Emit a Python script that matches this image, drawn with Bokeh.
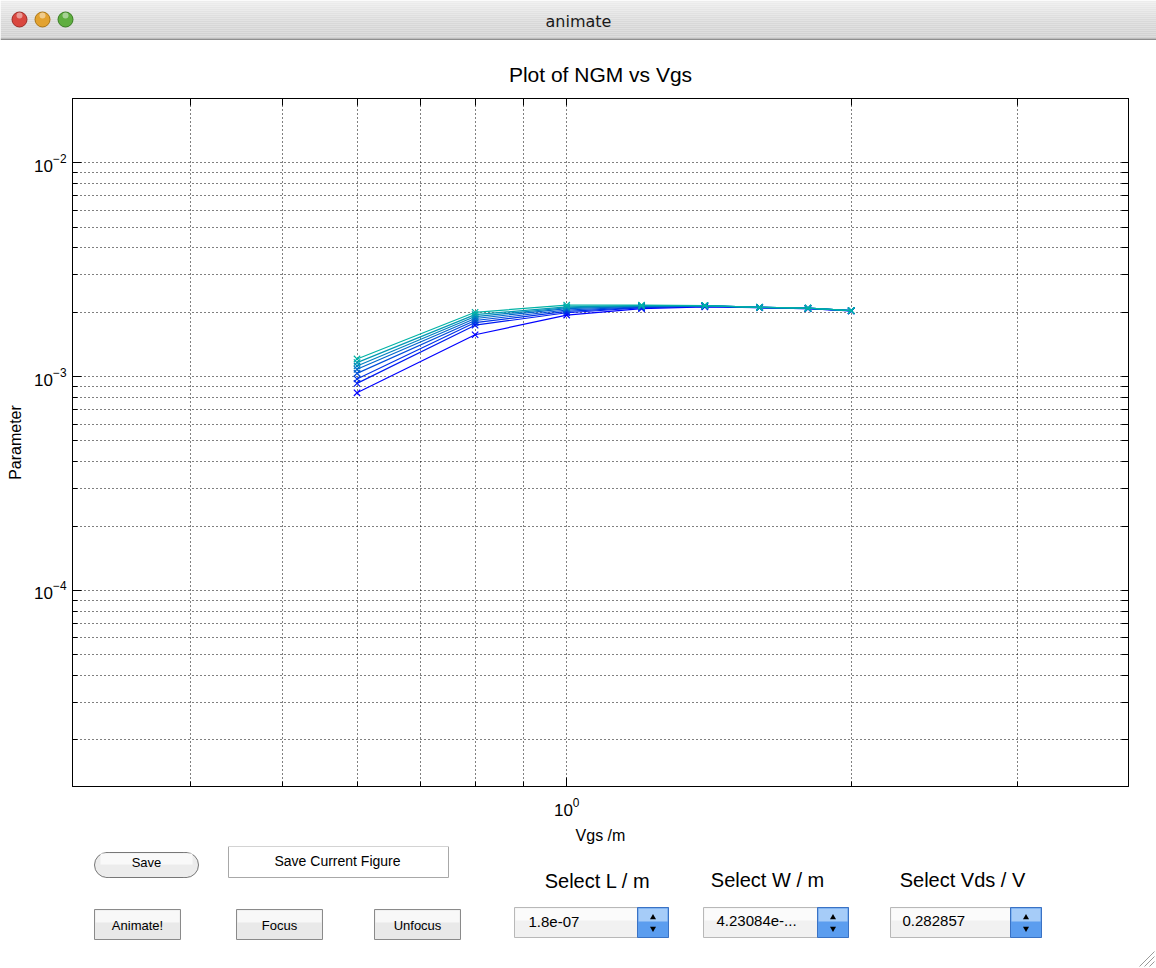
from bokeh.plotting import figure
from bokeh.models import Range1d, FixedTicker, LogAxis
from bokeh.layouts import column, row
from bokeh.embed import file_html
from bokeh.resources import INLINE
from bokeh.core.properties import value

# ---------------- data ----------------
vgs = [0.6, 0.8, 1.0, 1.2, 1.4, 1.6, 1.8, 2.0]
ngm_1 = [8.4e-4, 1.57e-3, 1.94e-3, 2.08e-3, 2.12e-3, 2.10e-3, 2.08e-3, 2.03e-3]
ngm_2 = [9.3e-4, 1.74e-3, 1.99e-3, 2.10e-3, 2.13e-3, 2.10e-3, 2.08e-3, 2.03e-3]
ngm_3 = [9.75e-4, 1.79e-3, 2.02e-3, 2.11e-3, 2.14e-3, 2.11e-3, 2.085e-3, 2.035e-3]
ngm_4 = [1.036e-3, 1.83e-3, 2.05e-3, 2.12e-3, 2.14e-3, 2.11e-3, 2.09e-3, 2.035e-3]
ngm_5 = [1.082e-3, 1.87e-3, 2.08e-3, 2.13e-3, 2.15e-3, 2.11e-3, 2.09e-3, 2.035e-3]
ngm_6 = [1.122e-3, 1.91e-3, 2.10e-3, 2.14e-3, 2.15e-3, 2.11e-3, 2.09e-3, 2.035e-3]
ngm_7 = [1.163e-3, 1.95e-3, 2.12e-3, 2.15e-3, 2.15e-3, 2.11e-3, 2.09e-3, 2.035e-3]
ngm_8 = [1.21e-3, 2.00e-3, 2.16e-3, 2.16e-3, 2.15e-3, 2.11e-3, 2.09e-3, 2.035e-3]
series = [ngm_1, ngm_2, ngm_3, ngm_4, ngm_5, ngm_6, ngm_7, ngm_8]
colors = ["#0000FF", "#001AF2", "#0033E6", "#004DD9", "#0066CC", "#0080BF", "#0099B3", "#00B3A6"]

x_major_ticks = [1.0]
x_minor_ticks = [0.3, 0.4, 0.5, 0.6, 0.7, 0.8, 0.9, 2.0, 3.0]
y_major_ticks = [1e-5, 1e-4, 1e-3, 1e-2]
y_minor_ticks = [2e-5, 3e-5, 4e-5, 5e-5, 6e-5, 7e-5, 8e-5, 9e-5,
                 2e-4, 3e-4, 4e-4, 5e-4, 6e-4, 7e-4, 8e-4, 9e-4,
                 2e-3, 3e-3, 4e-3, 5e-3, 6e-3, 7e-3, 8e-3, 9e-3, 2e-2]

plot_title = "Plot of NGM vs Vgs"
x_label = "Vgs /m"
y_label = "Parameter"
window_title = "animate"
button_labels = ["Save", "Animate!", "Focus", "Unfocus"]
static_text = "Save Current Figure"
select_labels = ["Select L / m", "Select W / m", "Select Vds / V"]
popup_values = ["1.8e-07", "4.23084e-...", "0.282857"]

FONT = "Liberation Sans"
GUI_FONT = "DejaVu Sans"


def blank(height, y0, y1):
    f = figure(width=1156, height=height, x_range=Range1d(0, 1156), y_range=Range1d(y1, y0),
               output_backend="svg", toolbar_location=None, min_border=0,
               min_border_left=0, min_border_right=0, min_border_top=0, min_border_bottom=0,
               x_axis_location=None, y_axis_location=None)
    f.grid.visible = False
    f.outline_line_color = None
    f.background_fill_color = "white"
    f.border_fill_color = "white"
    return f


# ---------------- title bar ----------------
tb = blank(40, 0, 40)
stripe_top = list(range(0, 38, 2))
shades = ["#ededed", "#ebebeb", "#e9e9e9", "#e7e7e7", "#e5e5e5", "#e3e3e3", "#e1e1e1",
          "#dfdfdf", "#dddddd", "#dbdbdb", "#d9d9d9", "#d8d8d8", "#d7d7d7", "#d6d6d6",
          "#d5d5d5", "#d4d4d4", "#d3d3d3", "#d2d2d2", "#d1d1d1"]
tb.quad(left=0, right=1156, top=stripe_top, bottom=[t + 2 for t in stripe_top],
        fill_color=shades, line_color=None)
tb.quad(left=0, right=1156, top=38, bottom=40, fill_color="#8e8e8e", line_color=None)
tb.scatter([19, 42, 65], [19, 19, 19], marker="circle", size=15,
           fill_color=["#d9473f", "#e3a22f", "#5fae3f"],
           line_color=["#9c2c27", "#a97515", "#397c22"], line_width=1)
tb.scatter([19, 42, 65], [15, 15, 15], marker="circle", size=6,
           fill_color="white", fill_alpha=0.45, line_color=None)
tb.text(x=[578], y=[21], text=[window_title], text_align="center", text_baseline="middle",
        text_font=value(GUI_FONT), text_font_size="16px", text_color="#1a1a1a")

# ---------------- main plot ----------------
p = figure(width=1156, height=806, x_axis_type="log", y_axis_type="log",
           x_range=Range1d(0.3, 3.93), y_range=Range1d(1.21e-5, 0.02),
           output_backend="svg", toolbar_location=None,
           min_border_left=72, min_border_right=28, min_border_top=58, min_border_bottom=60,
           title=plot_title)
p.background_fill_color = "white"
p.border_fill_color = "white"
p.outline_line_color = "black"
p.outline_line_width = 1
p.title.align = "center"
p.title.text_font = FONT
p.title.text_font_size = "21px"
p.title.text_font_style = "normal"
p.title.text_color = "black"
p.title.standoff = 25

xt = FixedTicker(ticks=x_major_ticks, minor_ticks=x_minor_ticks)
yt = FixedTicker(ticks=y_major_ticks, minor_ticks=y_minor_ticks)
p.xaxis.ticker = xt
p.yaxis.ticker = yt
p.xgrid.ticker = xt
p.ygrid.ticker = yt

for ax in [p.xaxis[0], p.yaxis[0]]:
    ax.axis_line_color = "black"
    ax.major_tick_line_color = "black"
    ax.minor_tick_line_color = "black"
    ax.major_tick_in = 9
    ax.major_tick_out = 0
    ax.minor_tick_in = 5
    ax.minor_tick_out = 0
    ax.major_label_text_font = FONT
    ax.major_label_text_font_size = "17px"
    ax.major_label_text_color = "black"
    ax.axis_label_text_font = FONT
    ax.axis_label_text_font_size = "16px"
    ax.axis_label_text_font_style = "normal"
    ax.axis_label_text_color = "black"

p.xaxis.axis_label = x_label
p.yaxis.axis_label = y_label
p.xaxis.major_label_standoff = 11
p.xaxis.axis_label_standoff = 8
p.yaxis.major_label_standoff = 6
p.yaxis.axis_label_standoff = 7

top_ax = LogAxis(ticker=FixedTicker(ticks=[], minor_ticks=x_major_ticks + x_minor_ticks),
                 minor_tick_in=7, minor_tick_out=0, major_tick_in=0, major_tick_out=0,
                 axis_line_color="black", minor_tick_line_color="black")
right_ax = LogAxis(ticker=FixedTicker(ticks=[], minor_ticks=y_major_ticks + y_minor_ticks),
                   minor_tick_in=7, minor_tick_out=0, major_tick_in=0, major_tick_out=0,
                   axis_line_color="black", minor_tick_line_color="black")
p.add_layout(top_ax, "above")
p.add_layout(right_ax, "right")

for g in [p.xgrid[0], p.ygrid[0]]:
    g.grid_line_color = "black"
    g.grid_line_dash = "1 3"
    g.grid_line_width = 1
    g.grid_line_alpha = 1.0
    g.minor_grid_line_color = "black"
    g.minor_grid_line_dash = "1 3"
    g.minor_grid_line_width = 1
    g.minor_grid_line_alpha = 1.0

for ys, c in zip(series, colors):
    p.line(vgs, ys, line_color=c, line_width=1.2)
    p.scatter(vgs, ys, marker="x", size=9, line_color=c, line_width=1.2)

# ---------------- GUI controls ----------------
ctrl = blank(122, 846, 968)

# Save button (rounded ends) and static text box
ctrl.quad(left=[106], right=[186], top=[852], bottom=[877],
          fill_color="#ececec", line_color="#777777", line_width=1)
ctrl.scatter([106.5, 185.5], [864.5, 864.5], marker="circle", size=25,
             fill_color="#ececec", line_color="#777777", line_width=1)
ctrl.quad(left=[105], right=[187], top=[852.6], bottom=[876.4], fill_color="#ececec", line_color=None)
ctrl.quad(left=[100], right=[192], top=[853], bottom=[864], fill_color="#f9f9f9", line_color=None)
ctrl.quad(left=[228], right=[448], top=[846], bottom=[877],
          fill_color="white", line_color="#a8a8a8", line_width=1)
# square buttons
btn_left = [94, 236, 374]
btn_right = [180, 322, 460]
ctrl.quad(left=btn_left, right=btn_right, top=909, bottom=939,
          fill_color="#e9e9e9", line_color="#8a8a8a", line_width=1)
ctrl.quad(left=[b + 1 for b in btn_left], right=[b - 1 for b in btn_right], top=910, bottom=922,
          fill_color="#f8f8f8", line_color=None)

# popup menus
pop_left = [514, 703, 890]
pop_right = [668, 848, 1041]
step_left = [637, 817, 1010]
ctrl.quad(left=pop_left, right=pop_right, top=907, bottom=937,
          fill_color="#f1f1f1", line_color="#b8b8b8", line_width=1)
ctrl.quad(left=[b + 1 for b in pop_left], right=step_left, top=908, bottom=920,
          fill_color="#fbfbfb", line_color=None)
ctrl.quad(left=step_left, right=pop_right, top=907, bottom=937,
          fill_color="#5b9def", line_color="#3a72c4", line_width=1)
ctrl.quad(left=[s + 1 for s in step_left], right=[r - 1 for r in pop_right], top=908, bottom=921,
          fill_color="#a6ccf8", line_color=None)
step_cx = [(a + b) / 2 for a, b in zip(step_left, pop_right)]
ctrl.scatter(step_cx, [917] * 3, marker="triangle", size=6, fill_color="black", line_color=None)
ctrl.scatter(step_cx, [928] * 3, marker="inverted_triangle", size=6, fill_color="black", line_color=None)

# resize grip
ctrl.segment(x0=[1139, 1144, 1149], y0=[966, 966, 966], x1=[1154, 1154, 1154], y1=[951, 956, 961],
             line_color="#9a9a9a", line_width=1)

ctrl.text(x=[146, 137, 279, 417], y=[862, 925, 925, 925], text=button_labels,
          text_align="center", text_baseline="middle", text_font=value(FONT),
          text_font_size="13px", text_color="black")
ctrl.text(x=[337], y=[860], text=[static_text], text_align="center",
          text_baseline="middle", text_font=value(FONT), text_font_size="14px", text_color="black")
ctrl.text(x=[597, 767, 962], y=[880, 879, 879], text=select_labels, text_align="center",
          text_baseline="middle", text_font=value(FONT), text_font_size="20px", text_color="black")
ctrl.text(x=[528, 716, 902], y=[921, 920, 920], text=popup_values, text_align="left",
          text_baseline="middle", text_font=value(FONT), text_font_size="15px", text_color="black")

layout = column(row(tb), row(p), row(ctrl), spacing=0)
open("out.html", "w").write(file_html(layout, INLINE))
